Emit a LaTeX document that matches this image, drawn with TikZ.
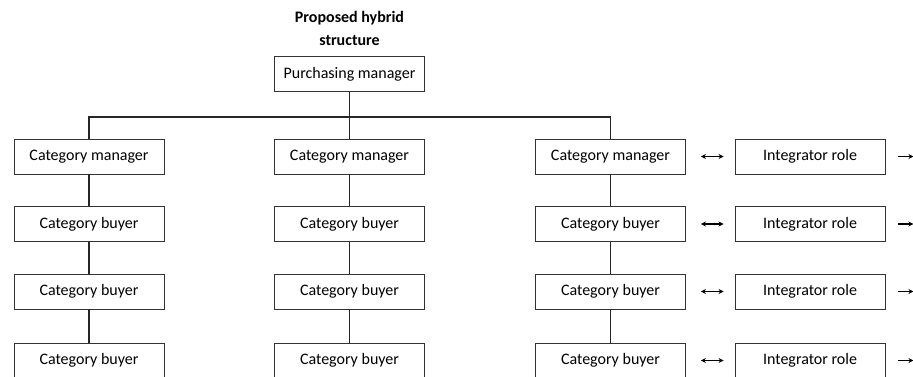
\documentclass[tikz,border=0pt]{standalone}
\usepackage{fontspec}
\setmainfont{Carlito}
\usetikzlibrary{arrows.meta,calc}
\begin{document}
\begin{tikzpicture}[x=1pt,y=-1pt,
  box/.style={draw=black!80, line width=0.9pt, minimum width=150pt, minimum height=35pt,
    inner sep=0pt, font=\fontsize{16}{19}\selectfont, fill=white},
  link/.style={draw=black!85, line width=1.6pt},
  biarrow/.style={draw=black, line width=1.1pt,
    {Stealth[length=5pt,width=5pt]}-{Stealth[length=5pt,width=5pt]},
    shorten <=15pt, shorten >=11pt},
  outarrow/.style={draw=black, line width=1.1pt, -{Stealth[length=5pt,width=5pt]},
    shorten <=13pt}]
% page frame; the lowest row runs off the bottom edge
\clip (0,0) rectangle (913,377);
\fill[white] (0,0) rectangle (913,377);

\node[align=center, font=\bfseries\fontsize{16}{23}\selectfont] (title) at (349.5,28) {Proposed hybrid\\structure};
\node[box] (pm) at (349.5,74) {Purchasing manager};

% three category columns
\foreach \c/\x in {1/89,2/349.5,3/610.5}{
  \node[box] (cm\c) at (\x,156.5) {Category manager};
  \node[box] (cba\c) at (\x,224) {Category buyer};
  \node[box] (cbb\c) at (\x,291.5) {Category buyer};
  \node[box] (cbc\c) at (\x,360.5) {Category buyer};
}

% integrator roles beside the third column
\node[box] (ia) at (810,156.5) {Integrator role};
\node[box] (ib) at (810,224) {Integrator role};
\node[box] (ic) at (810,291.5) {Integrator role};
\node[box] (id) at (810,360.5) {Integrator role};

% reporting lines
\coordinate (bar) at (349.5,117);
\draw[link] (pm.south) -- (cm2.north);
\draw[link] (bar) -| (cm1.north);
\draw[link] (bar) -| (cm3.north);
\foreach \c in {1,2,3}{
  \draw[link] (cm\c.south) -- (cba\c.north);
  \draw[link] (cba\c.south) -- (cbb\c.north);
  \draw[link] (cbb\c.south) -- (cbc\c.north);
}

% links to the integrator roles
\draw[biarrow] (cm3.east) -- (ia.west);
\draw[biarrow] (cba3.east) -- (ib.west);
\draw[biarrow] (cbb3.east) -- (ic.west);
\draw[biarrow] (cbc3.east) -- (id.west);
\foreach \n in {ia,ib,ic,id}{
  \coordinate (\n out) at ($(\n.east)+(28,0)$);
  \draw[outarrow] (\n.east) -- (\n out);
}
\end{tikzpicture}
\end{document}
